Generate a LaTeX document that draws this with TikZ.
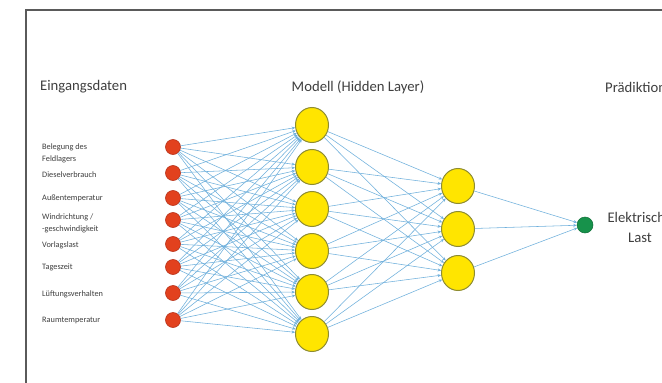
\documentclass[tikz,border=0pt]{standalone}
\usepackage{fontspec}
\setmainfont{Carlito}
\usetikzlibrary{shapes.geometric,arrows.meta}
\definecolor{txt}{HTML}{3F3F3F}
\definecolor{framec}{HTML}{5A5A5A}
\definecolor{redf}{HTML}{E2411E}
\definecolor{redd}{HTML}{B8321A}
\definecolor{yelf}{HTML}{FFE500}
\definecolor{yeld}{HTML}{8E8C32}
\definecolor{grnf}{HTML}{17924B}
\definecolor{grnd}{HTML}{0F6E37}
\definecolor{edgec}{HTML}{6FB0DC}
\begin{document}
\begin{tikzpicture}[x=1pt,y=-1pt,
  heading/.style={text=txt,font=\fontsize{14.7}{20}\selectfont,inner sep=0pt},
  small/.style={text=txt,font=\fontsize{8.3}{11.5}\selectfont,inner sep=0pt,anchor=west,align=left},
  inp/.style={circle,fill=redf,draw=redd,line width=0.6pt,minimum size=15pt,inner sep=0pt},
  hid/.style={ellipse,fill=yelf,draw=yeld,line width=1pt,minimum width=33pt,minimum height=35pt,inner sep=0pt},
  outn/.style={circle,fill=grnf,draw=grnd,line width=0.5pt,minimum size=16pt,inner sep=0pt},
  link/.style={draw=edgec,line width=0.55pt,-{Stealth[length=3.5pt,width=3pt]}},
  frameline/.style={draw=framec,line width=1.3pt}]
\useasboundingbox (0,0) rectangle (662,383);
\clip (0,0) rectangle (662,383);
\fill[white] (0,0) rectangle (662,383);
\draw[frameline] (26,400) -- (26,10) -- (700,10);
% headings
\node[heading,anchor=west] (hin) at (40,87) {Eingangsdaten};
\node[heading] (hmid) at (358,87) {Modell (Hidden Layer)};
\node[heading,anchor=west] (hout) at (605,87) {Prädiktion};
% input labels
\node[small] (l1) at (42,153.5) {Belegung des\\Feldlagers};
\node[small] (l2) at (42,175) {Dieselverbrauch};
\node[small] (l3) at (42,198) {Außentemperatur};
\node[small] (l4) at (42,223.5) {Windrichtung /\\-geschwindigkeit};
\node[small] (l5) at (42,245) {Vorlagslast};
\node[small] (l6) at (42,267) {Tageszeit};
\node[small] (l7) at (42,294) {Lüftungsverhalten};
\node[small] (l8) at (42,321) {Raumtemperatur};
% input nodes
\foreach \n/\y in {1/147,2/173,3/198,4/220,5/244,6/267,7/293,8/320}
  \node[inp] (i\n) at (173,\y) {};
% hidden layer 1
\foreach \n/\y in {1/125,2/167,3/209,4/251,5/292,6/334}
  \node[hid] (h\n) at (312,\y) {};
% hidden layer 2
\foreach \n/\y in {1/186,2/229,3/273}
  \node[hid] (g\n) at (458,\y) {};
% output
\node[outn] (o) at (585,225) {};
\node[heading,align=center] (lo) at (640,227.5) {Elektrische\\Last};
% connections
\foreach \a in {1,...,8}
  \foreach \b in {1,...,6}
    \draw[link] (i\a) -- (h\b);
\foreach \a in {1,...,6}
  \foreach \b in {1,...,3}
    \draw[link] (h\a) -- (g\b);
\foreach \a in {1,...,3}
  \draw[link] (g\a) -- (o);
\end{tikzpicture}
\end{document}
